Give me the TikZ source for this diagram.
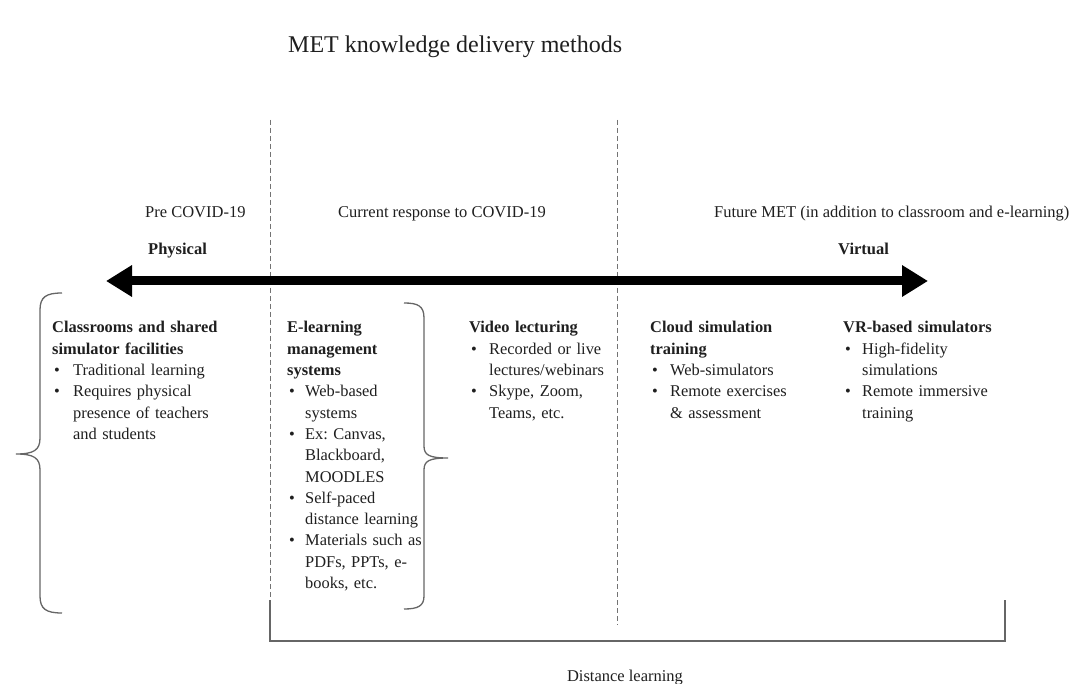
\documentclass[tikz,border=0pt]{standalone}
\usepackage{fontspec}
\setmainfont{Liberation Serif}
\usetikzlibrary{arrows.meta}
\newcommand\bitem[2]{\makebox[#1][l]{\hspace{2pt}\textbullet}#2}
\newcommand\cont[2]{\hspace*{#1}#2}
\begin{document}
\frenchspacing
\begin{tikzpicture}[x=1pt,y=-1pt,
  every node/.style={inner sep=0pt, text=black!88},
  body/.style={anchor=base west, align=left, text width=260pt, font=\fontsize{16.4}{21.3}\selectfont},
  lbl/.style={anchor=base west, font=\fontsize{16.5}{20}\selectfont},
  divider/.style={draw=black!55, line width=0.9pt, dash pattern=on 5pt off 3pt},
  bracestyle/.style={draw=black!60, line width=1.3pt},
  bracket/.style={draw=black!60, line width=1.5pt},
  bigarrow/.style={line width=9pt, {Triangle[length=26pt,width=30pt]}-{Triangle[length=26pt,width=30pt]}}
  ]
\useasboundingbox (0,0) rectangle (1074,684);
\fill[white] (0,0) rectangle (1074,684);

\node[anchor=base west, font=\fontsize{24}{28}\selectfont] (title) at (288,53) {MET knowledge delivery methods};

\coordinate (d1t) at (270,120); \coordinate (d1b) at (270,602);
\coordinate (d2t) at (617,120); \coordinate (d2b) at (617,625);
\draw[divider] (d1t) -- (d1b);
\draw[divider] (d2t) -- (d2b);

\node[lbl] (pre) at (145,218) {Pre COVID-19};
\node[lbl] (cur) at (338,218) {Current response to COVID-19};
\node[lbl] (fut) at (714,218) {Future MET (in addition to classroom and e-learning)};
\node[lbl, font=\fontsize{16.5}{20}\selectfont\bfseries] (phys) at (148,255) {Physical};
\node[lbl, font=\fontsize{16.5}{20}\selectfont\bfseries] (virt) at (838,255) {Virtual};

\coordinate (aL) at (106,281); \coordinate (aR) at (928,281);
\draw[bigarrow] (aL) -- (aR);

\node[body] (cls) at (52,333) {\textbf{Classrooms and shared}\\\textbf{simulator facilities}\\\bitem{21pt}{Traditional learning}\\\bitem{21pt}{Requires physical}\\\cont{21pt}{presence of teachers}\\\cont{21pt}{and students}};

\node[body] (elm) at (287,333) {\textbf{E-learning}\\\textbf{management}\\\textbf{systems}\\\bitem{18pt}{Web-based}\\\cont{18pt}{systems}\\\bitem{18pt}{Ex: Canvas,}\\\cont{18pt}{Blackboard,}\\\cont{18pt}{MOODLES}\\\bitem{18pt}{Self-paced}\\\cont{18pt}{distance learning}\\\bitem{18pt}{Materials such as}\\\cont{18pt}{PDFs, PPTs, e-}\\\cont{18pt}{books, etc.}};

\node[body] (vid) at (469,333) {\textbf{Video lecturing}\\\bitem{20pt}{Recorded or live}\\\cont{20pt}{lectures/webinars}\\\bitem{20pt}{Skype, Zoom,}\\\cont{20pt}{Teams, etc.}};

\node[body] (cld) at (650,333) {\textbf{Cloud simulation}\\\textbf{training}\\\bitem{20pt}{Web-simulators}\\\bitem{20pt}{Remote exercises}\\\cont{20pt}{\& assessment}};

\node[body] (vr) at (843,333) {\textbf{VR-based simulators}\\\bitem{19pt}{High-fidelity}\\\cont{19pt}{simulations}\\\bitem{19pt}{Remote immersive}\\\cont{19pt}{training}};

\draw[bracestyle] (62,293) .. controls (46,293) and (40,297) .. (40,310) -- (40,438) .. controls (40,450) and (34,454) .. (16,454) .. controls (34,454) and (40,458) .. (40,470) -- (40,596) .. controls (40,609) and (46,613) .. (62,613);

\draw[bracestyle] (404,303) .. controls (418,303) and (424,306) .. (424,318) -- (424,446) .. controls (424,455) and (429,458) .. (448,458) .. controls (429,458) and (424,461) .. (424,470) -- (424,596) .. controls (424,606) and (418,609) .. (404,609);

\coordinate (bL) at (270,600); \coordinate (bR) at (1005,600);
\draw[bracket] (bL) -- (270,641) -- (1005,641) -- (bR);

\node[anchor=base, font=\fontsize{16.5}{20}\selectfont] (dist) at (625,681) {Distance learning};
\end{tikzpicture}
\end{document}
